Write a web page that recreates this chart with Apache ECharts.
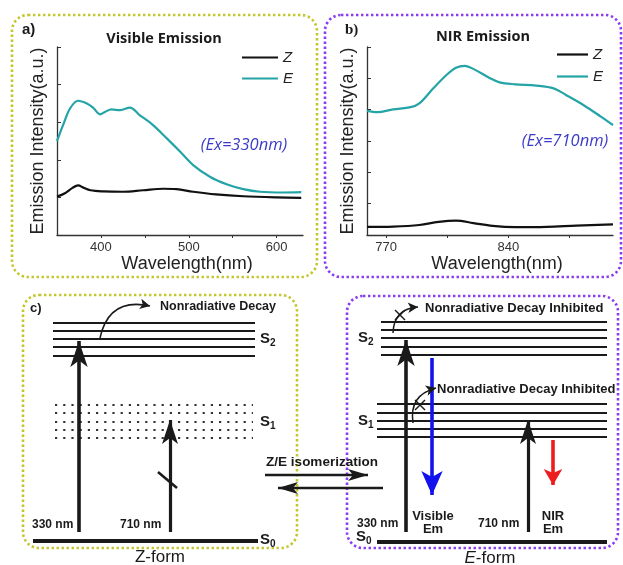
<!DOCTYPE html>
<html><head><meta charset="utf-8">
<script src="https://cdn.jsdelivr.net/npm/echarts@6/dist/echarts.min.js"></script>
<style>html,body{margin:0;padding:0;background:#fff}#c{width:623px;height:565px}</style>
</head><body><div id="c"></div>
<script>
// ---------- Panel a: Visible emission (Ex = 330 nm) ----------
const visEWavelength = [350,357,365,374,384,391,399,405,412,422,433,444,459,475,490,505,524,543,562,581,607,628];
const visE = [2.50,2.93,3.37,3.57,3.50,3.39,3.21,3.28,3.34,3.32,3.39,3.19,2.93,2.57,2.22,1.86,1.55,1.35,1.22,1.15,1.13,1.14];
const visZWavelength = [350,359,368,374,380,388,403,425,448,471,486,505,531,562,600,628];
const visZ = [1.02,1.11,1.26,1.32,1.26,1.19,1.16,1.15,1.19,1.23,1.22,1.15,1.08,1.03,1.00,0.99];
const visTicks = [400,450,500,550,600];
const visLabels = [400,500,600];

// ---------- Panel b: NIR emission (Ex = 710 nm) ----------
const nirEWavelength = [759,765,774,784,789,797,805,810,815,821,829,835,844,856,866,873,883,893,900];
const nirE = [3.96,3.92,4.01,4.08,4.20,4.68,5.13,5.34,5.40,5.27,5.02,4.87,4.81,4.77,4.68,4.47,4.15,3.78,3.51];
const nirZWavelength = [759,774,789,800,810,820,831,844,862,879,900];
const nirZ = [0.26,0.27,0.32,0.42,0.46,0.38,0.29,0.25,0.26,0.30,0.34];
const nirTicks = [770,805,840,875];
const nirLabels = [770,840];

const seriesNames = ['Z','E'];

// ---------- Panel c: energy-level scheme (diagram units) ----------
const zS2Levels = [323,331,339,347,356];
const zS1Levels = [405,413,422,430,438];
const eS2Levels = [322,330,338,347,355];
const eS1Levels = [404,413,421,429,437];

const SANS = '"Liberation Sans", Arial, sans-serif';
const OPEN = '"Open Sans", "Liberation Sans", sans-serif';

function pairs(xs, ys){ return xs.map((x,i)=>[x, ys[i]]); }
function hLines(ys, x0, x1){ return ys.map(y => ({coords: [[x0,y],[x1,y]]})); }
// arrow: start point, tip point, head length -> shaft end is at head centre
function arrow(from, tip, headLen){
  const dx = tip[0]-from[0], dy = tip[1]-from[1];
  const L = Math.hypot(dx,dy);
  return {coords: [from, [tip[0]-dx/L*headLen/2, tip[1]-dy/L*headLen/2]]};
}
function linesSeries(data, style, extra){
  return Object.assign({type:'lines', coordinateSystem:'cartesian2d', xAxisIndex:2, yAxisIndex:2,
    silent:true, symbol:'none', lineStyle:Object.assign({color:'#1a1a1a', opacity:1, width:2}, style),
    data:data, z:5}, extra||{});
}

const chart = echarts.init(document.getElementById('c'), null, {renderer:'canvas'});

const axisLineStyle = {lineStyle:{color:'#333', width:1.3}};
const yName = 'Emission Intensity(a.u.)';
const nameStyleY = {fontFamily:SANS, fontSize:18, color:'#222'};
const nameStyleX = {fontFamily:SANS, fontSize:18, color:'#222', padding:[0,0,0,14]};

function subLabel(n){ return '{s|S}{b|' + n + '}'; }
const subRich = {s:{fontFamily:SANS, fontWeight:'bold', fontSize:15, lineHeight:18, fill:'#1a1a1a'},
                 b:{fontFamily:SANS, fontWeight:'bold', fontSize:10, lineHeight:11, verticalAlign:'bottom', fill:'#1a1a1a'}};

function txt(x, y, text, font, align, color, extra){
  return {type:'text', x:x, y:y, z:10, silent:true,
    style:Object.assign({text:text, font:font, fill:color||'#1a1a1a', align:align||'left', verticalAlign:'middle'}, extra||{})};
}
function rich(x, y, text, align){
  return {type:'text', x:x, y:y, z:10, silent:true,
    style:{text:text, rich:subRich, align:align||'left', verticalAlign:'middle'}};
}
function box(x,y,w,h,color){
  return {type:'rect', z:1, silent:true, shape:{x:x,y:y,width:w,height:h,r:16},
    style:{fill:'none', stroke:color, lineWidth:2.6, lineDash:[2.4,2.6]}};
}
const legendText = {fontFamily:SANS, fontStyle:'italic', fontSize:15, color:'#222'};

const option = {
  animation:false,
  backgroundColor:'#fff',
  grid:[
    {left:57, top:47, width:246, height:188},
    {left:367, top:47, width:246, height:188},
    {left:0, top:0, width:623, height:565}
  ],
  xAxis:[
    {gridIndex:0, type:'value', min:350, max:630, axisLine:axisLineStyle,
     axisTick:{customValues:visTicks, length:3, lineStyle:{color:'#333'}},
     axisLabel:{customValues:visLabels, fontFamily:SANS, fontSize:13, color:'#333', margin:6},
     splitLine:{show:false}, name:'Wavelength(nm)', nameLocation:'middle', nameGap:20, nameTextStyle:nameStyleX},
    {gridIndex:1, type:'value', min:759, max:900, axisLine:axisLineStyle,
     axisTick:{customValues:nirTicks, length:3, lineStyle:{color:'#333'}},
     axisLabel:{customValues:nirLabels, fontFamily:SANS, fontSize:13, color:'#333', margin:6},
     splitLine:{show:false}, name:'Wavelength(nm)', nameLocation:'middle', nameGap:20, nameTextStyle:nameStyleX},
    {gridIndex:2, type:'value', min:0, max:623, show:false}
  ],
  yAxis:[
    {gridIndex:0, type:'value', min:0, max:5, interval:1, axisLine:Object.assign({show:true}, axisLineStyle),
     axisTick:{show:true, inside:true, length:4, lineStyle:{color:'#333'}}, axisLabel:{show:false}, splitLine:{show:false},
     name:yName, nameLocation:'middle', nameGap:10, nameTextStyle:nameStyleY},
    {gridIndex:1, type:'value', min:0, max:6, interval:1, axisLine:Object.assign({show:true}, axisLineStyle),
     axisTick:{show:true, inside:true, length:4, lineStyle:{color:'#333'}}, axisLabel:{show:false}, splitLine:{show:false},
     name:yName, nameLocation:'middle', nameGap:10, nameTextStyle:nameStyleY},
    {gridIndex:2, type:'value', min:0, max:565, inverse:true, show:false}
  ],
  legend:[
    {data:seriesNames, orient:'vertical', left:237, top:45, icon:'rect', itemWidth:36, itemHeight:2.2, itemGap:6,
     textStyle:legendText, selectedMode:false},
    {data:seriesNames, orient:'vertical', left:552, top:42, icon:'rect', itemWidth:31, itemHeight:2.2, itemGap:7,
     textStyle:legendText, selectedMode:false}
  ],
  series:[
    {name:'Z', type:'line', xAxisIndex:0, yAxisIndex:0, data:pairs(visZWavelength, visZ), smooth:0.35, symbol:'none',
     lineStyle:{color:'#111', width:2.2}, itemStyle:{color:'#111'}},
    {name:'E', type:'line', xAxisIndex:0, yAxisIndex:0, data:pairs(visEWavelength, visE), smooth:0.35, symbol:'none',
     lineStyle:{color:'#24a4a6', width:2.2}, itemStyle:{color:'#24a4a6'}},
    {name:'Z', type:'line', xAxisIndex:1, yAxisIndex:1, data:pairs(nirZWavelength, nirZ), smooth:0.35, symbol:'none',
     lineStyle:{color:'#111', width:2.2}, itemStyle:{color:'#111'}},
    {name:'E', type:'line', xAxisIndex:1, yAxisIndex:1, data:pairs(nirEWavelength, nirE), smooth:0.35, symbol:'none',
     lineStyle:{color:'#24a4a6', width:2.2}, itemStyle:{color:'#24a4a6'}},

    // energy levels
    linesSeries([].concat(hLines(zS2Levels,53,255), hLines(eS2Levels,381,607), hLines(eS1Levels,377,607)), {width:1.9}),
    linesSeries(hLines(zS1Levels,55,253), {width:2.2, type:[2.2,6], color:'#333'}),
    linesSeries([{coords:[[33,541],[258,541]]},{coords:[[377,542],[607,542]]}], {width:4}),
    // excitation arrows (black)
    linesSeries([arrow([79,532],[79,328],26), arrow([406,532],[406,327],26)], {width:3.6},
      {symbol:['none','arrow'], symbolSize:[0,[13,26]]}),
    linesSeries([arrow([170,532],[170,408],24), arrow([528,532],[528,408],24)], {width:3.2},
      {symbol:['none','arrow'], symbolSize:[0,[12,24]]}),
    // emission arrows
    linesSeries([arrow([432,358],[432,507],24)], {width:3.6, color:'#1212ee'},
      {symbol:['none','arrow'], symbolSize:[0,[16,24]]}),
    linesSeries([arrow([553,440],[553,493],16)], {width:3.6, color:'#ee1c1c'},
      {symbol:['none','arrow'], symbolSize:[0,[14,16]]}),
    // Z/E isomerization arrows
    linesSeries([arrow([265,475],[378,475],20), arrow([383,488],[268,488],20)], {width:2.4},
      {symbol:['none','arrow'], symbolSize:[0,[9,20]]}),
    // curved nonradiative decay arrows
    linesSeries([{coords:[[100,338],[150,306]]}], {width:1.5, curveness:0.5},
      {symbol:['none','arrow'], symbolSize:[0,[8,10]]}),
    linesSeries([{coords:[[393,333],[418,307]]},{coords:[[413,423],[436,388]]}], {width:1.5, curveness:0.45},
      {symbol:['none','arrow'], symbolSize:[0,[8,10]]}),
    // crosses and blocked-transition slash
    linesSeries([{coords:[[395,310],[405,320]]},{coords:[[395,320],[405,310]]},
                 {coords:[[415,400],[425,410]]},{coords:[[415,410],[425,400]]}], {width:1.4}),
    linesSeries([{coords:[[158,472],[177,488]]}], {width:2.6})
  ],
  graphic:[
    box(12,15,305,262,'#c4c62c'),
    box(325,15,296,262,'#8a3cf0'),
    box(23,295,274,253,'#c4c62c'),
    box(347,296,271,252,'#8a3cf0'),
    txt(22,30,'a)','bold 15px '+SANS),
    txt(345,30,'b)','bold 15px "Liberation Serif", serif'),
    txt(164,39,'Visible Emission','bold 14.5px '+OPEN,'center'),
    txt(483,37,'NIR Emission','bold 14.5px '+OPEN,'center'),
    txt(244,145,'(Ex=330nm)','italic 16.5px '+OPEN,'center','#3b3bc8'),
    txt(565,141,'(Ex=710nm)','italic 16.5px '+OPEN,'center','#3b3bc8'),
    txt(30,308,'c)','bold 13px '+SANS),
    txt(160,307,'Nonradiative Decay','bold 12.5px '+SANS),
    rich(260,339,subLabel(2)), rich(260,422,subLabel(1)), rich(260,540,subLabel(0)),
    txt(32,525,'330 nm','bold 12px '+SANS),
    txt(120,525,'710 nm','bold 12px '+SANS),
    txt(160,557,'Z-form','17px '+SANS,'center'),
    txt(322,462,'Z/E isomerization','bold 13.5px '+SANS,'center'),
    rich(358,338,subLabel(2)), rich(358,421,subLabel(1)), rich(356,537,subLabel(0)),
    txt(357,524,'330 nm','bold 12px '+SANS),
    txt(478,524,'710 nm','bold 12px '+SANS),
    txt(433,523,'Visible\nEm','bold 13px '+SANS,'center',null,{lineHeight:13}),
    txt(553,523,'NIR\nEm','bold 13px '+SANS,'center',null,{lineHeight:13}),
    txt(425,308,'Nonradiative Decay Inhibited','bold 13px '+SANS),
    txt(437,389,'Nonradiative Decay Inhibited','bold 13px '+SANS),
    {type:'text', x:490, y:558, z:10, silent:true, style:{text:'{i|E}{r|-form}', align:'center', verticalAlign:'middle',
      rich:{i:{fontFamily:SANS, fontStyle:'italic', fontSize:17, fill:'#1a1a1a'}, r:{fontFamily:SANS, fontSize:17, fill:'#1a1a1a'}}}}
  ]
};
chart.setOption(option);
</script>
</body></html>
